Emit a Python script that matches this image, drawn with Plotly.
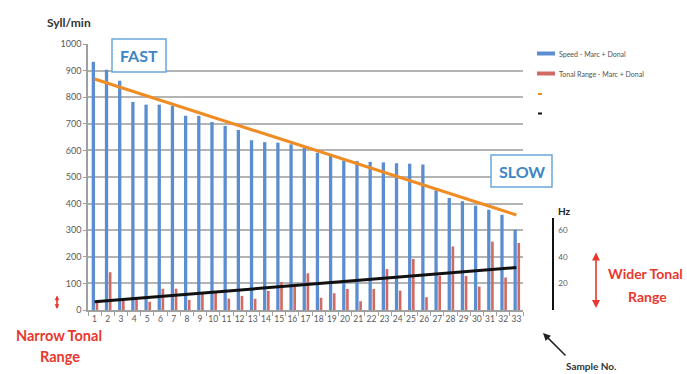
import numpy as np
import plotly.graph_objects as go

samples = [str(i) for i in range(1, 34)]
speed = [933, 903, 862, 782, 772, 772, 768, 730, 730, 707, 692, 677, 638, 631, 629, 623,
         610, 591, 579, 562, 560, 557, 555, 552, 550, 547, 450, 421, 409, 392, 377, 358, 302]
tonal_hz = [6.2, 28.4, 9.0, 9.0, 6.2, 16.0, 16.0, 7.6, 12.6, 13.0, 8.6, 10.6, 8.4, 14.4, 21.0,
            18.2, 27.6, 9.2, 12.6, 15.8, 6.6, 15.8, 30.8, 14.6, 38.4, 9.6, 25.8, 47.8, 25.6,
            17.6, 51.4, 24.4, 50.4]
speed_ticks = list(range(0, 1001, 100))
hz_ticks = [20, 40, 60]
legend_labels = ["Speed - Marc + Donal", "Tonal Range - Marc + Donal", "", ""]

BLUE = "#5b8ed0"
RED = "#d26a64"
ORANGE = "#f08c24"
BLACK = "#111111"
TXT_RED = "#e8382e"
BOX_BLUE = "#3d86c6"

# trend lines (linear least squares, like Excel trendlines)
xs = np.arange(1, len(samples) + 1)
ps = np.polyfit(xs, speed, 1)
pt = np.polyfit(xs, tonal_hz, 1)
speed_trend = np.polyval(ps, xs)
tonal_trend = np.polyval(pt, xs)

W, H = 687, 374
L, R, T, B = 88, 560, 44, 310   # plot area pixels
PW, PH = R - L, B - T
XDOM = (523 - L) / PW
HZ_TOP = 218
HZDOM = (B - HZ_TOP) / PH
SCALE = 5.0  # syll/min units per Hz


def px(x):
    return (x - L) / PW


def py(y):
    return (B - y) / PH


fig = go.Figure()
fig.add_trace(go.Bar(x=samples, y=speed, marker=dict(color=BLUE, line=dict(width=0)),
                     width=0.25, offset=-0.22, name=legend_labels[0], showlegend=False))
fig.add_trace(go.Scatter(x=samples, y=speed_trend, mode="lines",
                         line=dict(color=ORANGE, width=3), showlegend=False, name=legend_labels[2]))
fig.add_trace(go.Bar(x=samples, y=tonal_hz, yaxis="y3", marker=dict(color=RED, line=dict(width=0)),
                     width=0.2, offset=0.08, name=legend_labels[1], showlegend=False))
fig.add_trace(go.Scatter(x=samples, y=tonal_trend, yaxis="y3", mode="lines",
                         line=dict(color=BLACK, width=3), showlegend=False, name=legend_labels[3]))

tick_font = dict(family="Lato, Liberation Sans, sans-serif", size=9, color="#5a5a5a")

fig.update_layout(
    width=W, height=H,
    margin=dict(l=L, r=W - R, t=T, b=H - B),
    paper_bgcolor="white", plot_bgcolor="rgba(0,0,0,0)",
    barmode="overlay",
    xaxis=dict(type="category", domain=[0, XDOM], showgrid=False,
               showline=True, linecolor="#a0a0a0", linewidth=1.5,
               ticks="outside", tickson="boundaries", ticklen=4, tickcolor="#a0a0a0",
               tickangle=0, tickfont=dict(family="Lato, Liberation Sans, sans-serif", size=8.5,
                                          color="#5a5a5a"),
               fixedrange=True),
    yaxis=dict(range=[0, 1000], tickvals=speed_ticks, showgrid=True,
               gridcolor="#b4b4b4", gridwidth=1.5, showline=True, linecolor="#a0a0a0",
               linewidth=1.5, ticks="outside", ticklen=3, tickcolor="#a0a0a0",
               tickfont=tick_font, zeroline=False),
    yaxis3=dict(domain=[0, HZDOM], range=[0, 1000 / SCALE * HZDOM], anchor="free",
                position=px(553), side="right", tickvals=hz_ticks, showgrid=False,
                showline=True, linecolor="#111111", linewidth=1.5, ticks="",
                ticklabelstandoff=3, tickfont=dict(family="Lato, sans-serif", size=8, color="#5a5a5a"),
                zeroline=False),
)

shapes = []
annotations = []

# Legend (manual)
leg_y = [53.5, 73.5, 94, 113.5]
shapes.append(dict(type="rect", xref="paper", yref="paper", x0=px(537), x1=px(555),
                   y0=py(leg_y[0] + 2), y1=py(leg_y[0] - 2), fillcolor=BLUE, line=dict(width=0)))
shapes.append(dict(type="rect", xref="paper", yref="paper", x0=px(537), x1=px(555),
                   y0=py(leg_y[1] + 2), y1=py(leg_y[1] - 2), fillcolor=RED, line=dict(width=0)))
shapes.append(dict(type="line", xref="paper", yref="paper", x0=px(538), x1=px(542),
                   y0=py(leg_y[2]), y1=py(leg_y[2]), line=dict(color=ORANGE, width=2)))
shapes.append(dict(type="line", xref="paper", yref="paper", x0=px(538), x1=px(542),
                   y0=py(leg_y[3]), y1=py(leg_y[3]), line=dict(color=BLACK, width=2)))
for i in range(2):
    annotations.append(dict(xref="paper", yref="paper", x=px(557), y=py(leg_y[i]),
                            text=legend_labels[i], showarrow=False, xanchor="left", yanchor="middle",
                            font=dict(family="Lato, sans-serif", size=7, color="#505050")))

# FAST / SLOW boxes
for (x0, x1, y0, y1, label) in [(112, 166, 39, 72, "FAST"), (491, 552, 155, 187, "SLOW")]:
    shapes.append(dict(type="rect", xref="paper", yref="paper", x0=px(x0), x1=px(x1),
                       y0=py(y1), y1=py(y0), fillcolor="white",
                       line=dict(color="#6aa6dc", width=1.5)))
    annotations.append(dict(xref="paper", yref="paper", x=px((x0 + x1) / 2), y=py((y0 + y1) / 2),
                            text="<b>%s</b>" % label, showarrow=False, xanchor="center",
                            yanchor="middle",
                            font=dict(family="Lato, sans-serif", size=16, color=BOX_BLUE)))

# Axis titles
annotations.append(dict(xref="paper", yref="paper", x=px(69), y=py(23), text="<b>Syll/min</b>",
                        showarrow=False, xanchor="center", yanchor="middle",
                        font=dict(family="Lato, sans-serif", size=12, color="#333333")))
annotations.append(dict(xref="paper", yref="paper", x=px(556), y=py(211), text="<b>Hz</b>",
                        showarrow=False, xanchor="left", yanchor="middle",
                        font=dict(family="Lato, sans-serif", size=10, color="#222222")))
annotations.append(dict(xref="paper", yref="paper", x=px(591), y=py(366), text="<b>Sample No.</b>",
                        showarrow=False, xanchor="center", yanchor="middle",
                        font=dict(family="Lato, sans-serif", size=10, color="#333333")))

# Red text
for (x, y, t, s) in [(645, 273, "Wider Tonal", 14), (647, 296, "Range", 14),
                     (59, 335, "Narrow Tonal", 14.5), (60, 356, "Range", 14.5)]:
    annotations.append(dict(xref="paper", yref="paper", x=px(x), y=py(y), text="<b>%s</b>" % t,
                            showarrow=False, xanchor="center", yanchor="middle",
                            font=dict(family="Lato, sans-serif", size=s, color=TXT_RED)))

# Arrows
annotations.append(dict(xref="paper", yref="paper", x=px(596), y=py(308), ax=0, ay=-(308 - 251),
                        text="", showarrow=True, arrowside="end+start", arrowhead=2, arrowsize=1,
                        arrowwidth=1.6, arrowcolor=TXT_RED))
annotations.append(dict(xref="paper", yref="paper", x=px(57), y=py(309), ax=0, ay=-(309 - 294),
                        text="", showarrow=True, arrowside="end+start", arrowhead=2, arrowsize=0.6,
                        arrowwidth=1.6, arrowcolor=TXT_RED))
annotations.append(dict(xref="paper", yref="paper", x=px(543), y=py(333), ax=24, ay=24,
                        text="", showarrow=True, arrowhead=2, arrowsize=1,
                        arrowwidth=1.5, arrowcolor="#222222"))

fig.update_layout(shapes=shapes, annotations=annotations)
fig.write_html("out.html", config={"displayModeBar": False},
               post_script="document.body.style.margin='0';document.body.style.overflow='hidden';")
